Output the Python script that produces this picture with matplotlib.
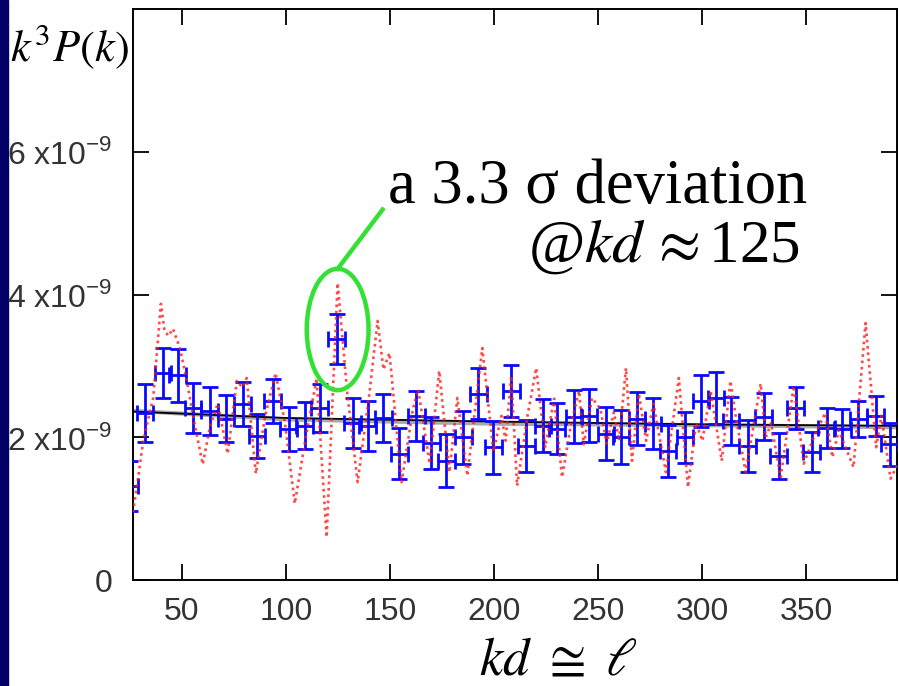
import numpy as np
import matplotlib
matplotlib.use("Agg")
import matplotlib.pyplot as plt
from matplotlib.patches import Ellipse, Rectangle

# binned band power, y in units of 1e-9
bin_k = [25.0, 32.2, 40.9, 48.0, 55.3, 63.4, 71.1, 79.2, 86.0, 93.6,
         101.3, 109.0, 116.1, 124.3, 132.0, 139.2, 146.8, 154.5, 162.6, 169.8,
         177.0, 185.2, 192.4, 199.6, 208.2, 215.4, 223.5, 230.2, 238.4, 245.6,
         253.7, 260.9, 268.6, 276.3, 283.5, 291.6, 299.3, 306.5, 313.7, 321.8,
         329.5, 336.7, 344.8, 352.5, 359.7, 367.3, 375.0, 383.2, 389.9]
bin_p = [1.32, 2.34, 2.90, 2.87, 2.41, 2.37, 2.26, 2.47, 2.02, 2.51,
         2.12, 2.16, 2.41, 3.37, 2.20, 2.16, 2.27, 1.77, 2.30, 1.92,
         1.67, 2.00, 2.61, 1.86, 2.65, 1.88, 2.16, 2.12, 2.29, 2.30,
         2.05, 2.00, 2.26, 2.19, 1.81, 2.00, 2.51, 2.55, 2.23, 1.88,
         2.29, 1.74, 2.41, 1.79, 2.13, 2.12, 2.26, 2.30, 1.90]
bin_err = [0.35, 0.40, 0.35, 0.37, 0.35, 0.34, 0.33, 0.31, 0.31, 0.31,
           0.31, 0.33, 0.33, 0.35, 0.35, 0.35, 0.34, 0.36, 0.35, 0.36,
           0.37, 0.37, 0.36, 0.37, 0.36, 0.36, 0.37, 0.36, 0.37, 0.37,
           0.37, 0.38, 0.37, 0.36, 0.36, 0.36, 0.36, 0.37, 0.34, 0.36,
           0.33, 0.32, 0.29, 0.28, 0.28, 0.27, 0.25, 0.28, 0.30]
bin_half = 4.0

# unbinned spectrum (red dotted)
fine_k = [26.5, 29.0, 31.4, 36.2, 39.9, 41.6, 43.5, 45.7, 49.0, 52.3,
          56.0, 60.0, 63.5, 67.2, 72.0, 76.4, 79.0, 81.1, 85.5, 90.0,
          95.0, 99.5, 104.2, 109.5, 114.7, 119.5, 124.8, 129.5, 134.4, 140.0,
          144.0, 146.8, 149.7, 155.5, 161.0, 163.5, 169.0, 173.6, 178.5, 182.3,
          187.1, 194.3, 199.6, 203.5, 205.5, 208.2, 211.0, 216.0, 220.2, 224.5,
          228.8, 232.6, 237.0, 240.8, 243.0, 247.0, 251.0, 254.0, 257.5, 260.0,
          263.3, 266.2, 269.5, 273.0, 276.5, 282.5, 288.7, 293.1, 297.0, 300.0,
          304.0, 309.3, 313.5, 316.0, 320.8, 328.0, 330.5, 333.0, 337.6, 343.9,
          348.7, 353.5, 359.0, 362.5, 365.5, 372.6, 378.4, 383.5, 386.0, 390.4,
          393.5]
fine_p = [0.95, 1.44, 1.95, 2.55, 3.87, 3.50, 3.42, 3.52, 3.25, 2.80,
          2.20, 1.62, 2.15, 2.47, 1.77, 2.79, 2.70, 2.83, 1.49, 2.30,
          2.90, 2.20, 1.07, 2.00, 2.82, 0.60, 4.16, 2.60, 1.37, 2.60,
          3.63, 2.95, 3.18, 1.37, 2.40, 2.67, 1.63, 2.93, 1.51, 2.55,
          1.46, 3.25, 1.80, 2.30, 1.95, 2.86, 1.32, 2.30, 2.97, 1.86,
          2.54, 1.44, 2.20, 2.65, 1.90, 2.55, 2.40, 1.91, 2.35, 1.95,
          2.97, 1.67, 2.61, 1.95, 2.47, 1.51, 2.83, 1.30, 2.20, 1.95,
          2.65, 1.67, 2.79, 2.30, 1.51, 2.75, 2.00, 2.20, 1.44, 2.72,
          1.63, 2.00, 2.34, 1.72, 2.10, 1.58, 3.60, 1.86, 2.30, 1.42,
          1.60]

# smooth fits
fit_k = [26.5, 100, 200, 300, 393.5]
fit_p = [2.36, 2.27, 2.22, 2.18, 2.16]
fit2_p = [2.37, 2.25, 2.19, 2.17, 2.14]

xticks = [50, 100, 150, 200, 250, 300, 350]
yticks = [0, 2, 4, 6]
ytick_labels = ["0", r"2 x10$^{\mathregular{-9}}$", r"4 x10$^{\mathregular{-9}}$",
                r"6 x10$^{\mathregular{-9}}$"]

W, H = 899, 686
fig = plt.figure(figsize=(W / 100, H / 100), dpi=100)
fig.add_artist(Rectangle((0, 0), 8 / W, 1, transform=fig.transFigure,
                         color="#000066", zorder=0))
ax = fig.add_axes([133 / W, 106 / H, (897 - 133) / W, (580 - 9) / H])

ax.plot(fit_k, fit2_p, color="#aaaaaa", lw=3.0, zorder=2)
ax.plot(fit_k, fit_p, color="black", lw=1.3, zorder=2)
ax.errorbar(bin_k, bin_p, yerr=bin_err, xerr=bin_half, fmt="none",
            ecolor="#0a0aff", elinewidth=2.0, capsize=6, capthick=2.0, zorder=3)
ax.plot(fine_k, fine_p, color="#ff1a1a", lw=1.9, ls=(0, (1.0, 1.4)), alpha=0.8,
        zorder=4)

ax.set_xlim(26.5, 393.5)
ax.set_ylim(0, 8)
ax.set_xticks(xticks)
ax.set_yticks(yticks)
ax.set_yticklabels(ytick_labels)
for s in ax.spines.values():
    s.set_linewidth(1.4)
ax.tick_params(direction="in", length=11.5, width=1.3, top=True, right=True,
               labelsize=23, labelcolor="#333333")
ax.tick_params(axis="x", pad=12)
ax.tick_params(axis="y", pad=15)
for lab in ax.get_xticklabels() + ax.get_yticklabels():
    lab.set_fontfamily("Liberation Sans")

# highlight of the outlier
green = "#33e033"
ax.add_patch(Ellipse((124.8, 3.51), 29.7, 1.70, fill=False, ec=green, lw=3.2,
                     clip_on=False, zorder=5))
ax.plot([124.8, 146.4], [4.36, 5.19], color=green, lw=3.2, clip_on=False, zorder=5)

fig.text(388 / W, 1 - 203 / H, "a 3.3 σ deviation", fontsize=45,
         family="Liberation Serif", va="baseline", ha="left")
fig.text(800 / W, 1 - 262 / H, r"@$kd\,\approx$125", fontsize=44,
         family="Liberation Serif", math_fontfamily="stix", va="baseline", ha="right")

fig.text(10 / W, 1 - 47 / H, r"$k^3P(k)$", fontsize=32, math_fontfamily="stix",
         va="center", ha="left")
fig.text(558 / W, 1 - 660 / H, r"$kd\ \cong\ \ell$", fontsize=38,
         math_fontfamily="stix", va="center", ha="center")

fig.savefig("out.png", dpi=100)
